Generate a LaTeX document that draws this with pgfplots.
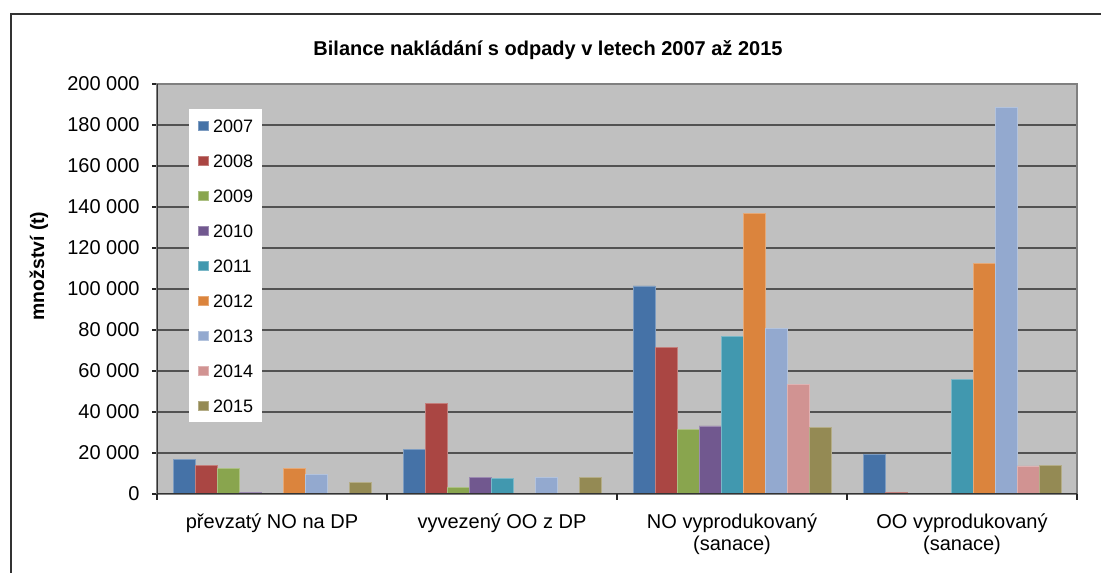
\documentclass[border=0pt]{standalone}
\usepackage{pgfplots}
\pgfplotsset{compat=1.18}
\usepackage{fontspec}
\setmainfont{Liberation Sans}
\definecolor{c07}{HTML}{4572A7}
\definecolor{c08}{HTML}{AA4643}
\definecolor{c09}{HTML}{89A54E}
\definecolor{c10}{HTML}{71588F}
\definecolor{c11}{HTML}{4198AF}
\definecolor{c12}{HTML}{DB843D}
\definecolor{c13}{HTML}{93A9CF}
\definecolor{c14}{HTML}{D19392}
\definecolor{c15}{HTML}{948A54}
\definecolor{plotbg}{HTML}{C0C0C0}
\begin{document}
\begin{tikzpicture}
\useasboundingbox (0,0) rectangle (550.5pt,286pt);
\fill[white] (0,0) rectangle (550.5pt,286pt);
\draw[black!80, line width=0.8pt] (5.5pt,-20pt) rectangle (600pt,279pt);
\begin{axis}[
  at={(78.5pt,39pt)}, anchor=south west,
  scale only axis, width=460pt, height=205pt,
  ybar=0pt, bar width=11pt,
  xmin=-0.5, xmax=3.5, ymin=0, ymax=200000,
  scaled y ticks=false,
  axis background/.style={fill=plotbg},
  axis line style={draw=black!50, line width=1pt},
  xtick={0,1,2,3},
  xticklabels={{převzatý NO na DP},{vyvezený OO z DP},{NO vyprodukovaný\\(sanace)},{OO vyprodukovaný\\(sanace)}},
  xticklabel style={align=center, font=\fontsize{10}{11}\selectfont, inner sep=0pt, anchor=north, yshift=-7pt},
  major x tick style={draw=none},
  extra x ticks={-0.5,0.5,1.5,2.5,3.5},
  extra x tick labels={},
  extra x tick style={major tick length=3pt, tick align=outside, major x tick style={draw=black!85, line width=0.6pt}, grid=none},
  ytick={0,20000,40000,60000,80000,100000,120000,140000,160000,180000,200000},
  yticklabels={0,20 000,40 000,60 000,80 000,100 000,120 000,140 000,160 000,180 000,200 000},
  yticklabel style={font=\fontsize{10}{11}\selectfont, inner sep=0pt, anchor=east, xshift=-6pt},
  ytick pos=left, xtick pos=bottom,
  tick align=outside,
  major tick length=2.5pt,
  major y tick style={draw=black!85, line width=0.6pt},
  ymajorgrids,
  major grid style={draw=black!68, line width=0.9pt},
  legend style={
    at={(axis description cs:0.0348,0.939)}, anchor=north west,
    draw=none, fill=white, inner xsep=4.5pt, inner ysep=5pt,
    font=\fontsize{9}{10}\selectfont,
    row sep=11.1pt,
    nodes={inner sep=0pt, text height=6.4pt, text depth=0pt},
    legend cell align=left,
  },
  legend image code/.code={\fill[#1] (0pt,-2.4pt) rectangle (5pt,2.4pt);},
  /tikz/every even column/.append style={column sep=0pt},
]
\addplot[fill=c07, draw=c07!70!white, line width=0.4pt] coordinates {(0,16700) (1,21700) (2,101500) (3,19200)};
\addplot[fill=c08, draw=c08!70!white, line width=0.4pt] coordinates {(0,13800) (1,44000) (2,71400) (3,700)};
\addplot[fill=c09, draw=c09!70!white, line width=0.4pt] coordinates {(0,12500) (1,3300) (2,31300)};
\addplot[fill=c10, draw=c10!70!white, line width=0.4pt] coordinates {(0,700) (1,8200) (2,33200)};
\addplot[fill=c11, draw=c11!70!white, line width=0.4pt] coordinates {(1,7700) (2,76700) (3,55700)};
\addplot[fill=c12, draw=c12!70!white, line width=0.4pt] coordinates {(0,12300) (2,136700) (3,112400)};
\addplot[fill=c13, draw=c13!70!white, line width=0.4pt] coordinates {(0,9400) (1,8200) (2,80600) (3,188700)};
\addplot[fill=c14, draw=c14!70!white, line width=0.4pt] coordinates {(2,53300) (3,13700)};
\addplot[fill=c15, draw=c15!70!white, line width=0.4pt] coordinates {(0,5600) (1,8000) (2,32400) (3,13800)};
\legend{\hspace{1.9pt}2007,\hspace{1.9pt}2008,\hspace{1.9pt}2009,\hspace{1.9pt}2010,\hspace{1.9pt}2011,\hspace{1.9pt}2012,\hspace{1.9pt}2013,\hspace{1.9pt}2014,\hspace{1.9pt}2015}
\draw[black!80, line width=1pt] (rel axis cs:0,1) -- (rel axis cs:0,0) -- (rel axis cs:1,0);
\end{axis}
\node[font=\bfseries\fontsize{10}{11}\selectfont] at (274pt,261pt) {Bilance nakládání s odpady v letech 2007 až 2015};
\node[rotate=90, font=\bfseries\fontsize{9.7}{11}\selectfont] at (19.5pt,153pt) {množství (t)};
\end{tikzpicture}
\end{document}
